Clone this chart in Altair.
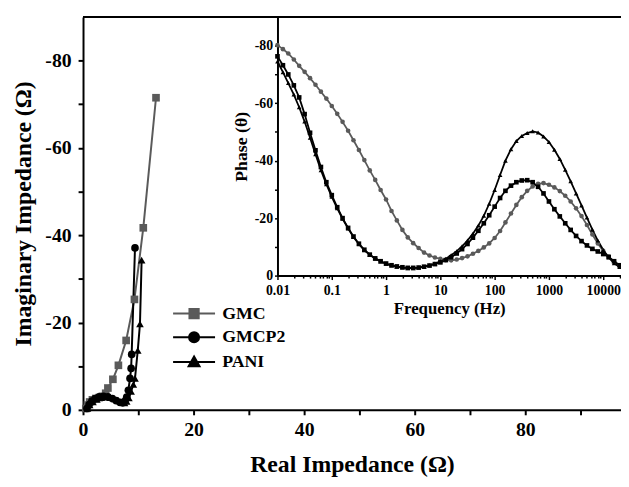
import altair as alt
import pandas as pd

series = ["GMC", "GMCP2", "PANI"]

# Nyquist data (real, imaginary in ohm)
gmc_re = [0.5, 0.8, 1.2, 1.7, 2.3, 2.9, 3.5, 4.1, 4.5, 5.4, 6.4, 7.8, 9.3, 10.9, 13.2]
gmc_im = [-0.3, -1.1, -1.8, -2.3, -2.6, -2.8, -3.1, -3.8, -5.0, -7.0, -10.2, -15.9, -25.3, -41.7, -71.5]
gmcp2_re = [0.7, 1.1, 1.6, 2.2, 2.9, 3.7, 4.5, 5.3, 6.0, 6.7, 7.2, 7.6, 7.9, 8.2, 8.5, 8.7, 8.8, 9.4]
gmcp2_im = [-0.3, -1.2, -2.0, -2.6, -3.0, -3.1, -3.0, -2.6, -2.1, -1.7, -1.6, -2.0, -2.9, -4.5, -7.2, -9.5, -12.7, -37.1]
pani_re = [0.8, 1.2, 1.8, 2.5, 3.3, 4.1, 4.9, 5.7, 6.4, 7.0, 7.5, 7.9, 8.3, 8.7, 9.1, 9.4, 9.9, 10.3, 10.6]
pani_im = [-0.3, -1.1, -1.8, -2.4, -2.8, -2.9, -2.8, -2.5, -2.1, -1.7, -1.6, -1.9, -2.7, -4.2, -5.8, -7.2, -13.6, -19.7, -34.3]

# Bode phase data
freq = [0.01, 0.0126, 0.0158, 0.02, 0.0251, 0.0316, 0.0398, 0.0501, 0.0631, 0.0794,
        0.1, 0.126, 0.158, 0.2, 0.251, 0.316, 0.398, 0.501, 0.631, 0.794,
        1, 1.26, 1.58, 2, 2.51, 3.16, 3.98, 5.01, 6.31, 7.94,
        10, 12.6, 15.8, 20, 25.1, 31.6, 39.8, 50.1, 63.1, 79.4,
        100, 126, 158, 200, 251, 316, 398, 501, 631, 794,
        1000, 1259, 1585, 1995, 2512, 3162, 3981, 5012, 6310, 7943,
        10000, 12589, 15849, 19953]
gmc_phase = [-80.2, -78.8, -77.3, -75.2, -73.0, -70.9, -68.7, -66.4, -64.0, -61.6,
             -59.0, -56.3, -53.5, -50.4, -47.1, -43.7, -40.2, -36.6, -33.3, -29.8,
             -26.5, -22.5, -19.2, -15.9, -13.3, -11.3, -9.6, -8.0, -7.0, -6.3,
             -5.8, -5.4, -5.3, -5.6, -6.1, -6.7, -7.6, -8.6, -9.8, -11.2,
             -13.1, -15.5, -18.5, -21.6, -24.6, -27.3, -29.5, -31.0, -31.9, -32.2,
             -31.6, -30.7, -29.4, -27.8, -25.8, -23.4, -20.7, -17.6, -14.3, -11.2,
             -8.6, -6.6, -4.8, -3.4]
gmcp2_phase = [-76.3, -73.2, -70.0, -66.2, -62.0, -56.2, -49.7, -43.6, -37.8, -32.5,
               -28.0, -23.8, -20.0, -16.6, -13.6, -11.1, -9.0, -7.3, -6.0, -5.0,
               -4.2, -3.6, -3.2, -2.9, -2.7, -2.7, -2.8, -3.1, -3.5, -4.0,
               -4.6, -5.4, -6.4, -7.7, -9.2, -11.0, -13.2, -15.6, -18.2, -21.0,
               -24.0, -27.0, -29.5, -31.3, -32.5, -33.1, -33.2, -32.5, -30.9, -28.6,
               -25.8, -23.1, -20.6, -18.2, -15.9, -13.8, -12.0, -10.5, -9.3, -8.4,
               -7.5, -6.5, -5.0, -3.6]
pani_phase = [-74.5, -70.8, -67.0, -63.0, -58.6, -53.6, -48.0, -42.2, -36.7, -31.8,
              -27.4, -23.4, -19.8, -16.4, -13.4, -10.9, -8.8, -7.2, -5.9, -4.9,
              -4.1, -3.5, -3.1, -2.8, -2.6, -2.6, -2.8, -3.1, -3.6, -4.2,
              -5.0, -5.9, -7.1, -8.5, -10.2, -12.2, -14.6, -17.4, -20.8, -25.0,
              -29.8, -35.0, -40.0, -44.0, -46.8, -48.6, -49.6, -50.2, -49.8, -48.4,
              -46.5, -43.8, -40.6, -36.8, -32.8, -28.6, -24.4, -20.2, -16.0, -12.2,
              -8.9, -6.3, -4.3, -3.0]

main_x_ticks = [0, 10, 20, 30, 40, 50, 60, 70, 80, 90]
main_y_ticks = [0, -10, -20, -30, -40, -50, -60, -70, -80]
inset_x_ticks = [0.01, 0.02, 0.03, 0.04, 0.05, 0.06, 0.07, 0.08, 0.09,
                 0.1, 0.2, 0.3, 0.4, 0.5, 0.6, 0.7, 0.8, 0.9,
                 1, 2, 3, 4, 5, 6, 7, 8, 9,
                 10, 20, 30, 40, 50, 60, 70, 80, 90,
                 100, 200, 300, 400, 500, 600, 700, 800, 900,
                 1000, 2000, 3000, 4000, 5000, 6000, 7000, 8000, 9000,
                 10000, 20000]
inset_y_ticks = [0, -10, -20, -30, -40, -50, -60, -70, -80]

main_shapes = {"GMC": "square", "GMCP2": "circle", "PANI": "triangle-up"}
inset_shapes = {"GMC": "circle", "GMCP2": "square", "PANI": "triangle-up"}

# ---- tables ----
rows = []
for name, re_, im_ in [("GMC", gmc_re, gmc_im), ("GMCP2", gmcp2_re, gmcp2_im), ("PANI", pani_re, pani_im)]:
    for i, (a, b) in enumerate(zip(re_, im_)):
        rows.append({"series": name, "re": a, "im": b, "i": i})
nyq = pd.DataFrame(rows)

rows = []
for name, ph in [("GMC", gmc_phase), ("GMCP2", gmcp2_phase), ("PANI", pani_phase)]:
    for f, p in zip(freq, ph):
        rows.append({"series": name, "f": f, "phase": p})
bode = pd.DataFrame(rows)

FONT = "Liberation Serif"
W, H = 545, 398
color_scale = alt.Scale(domain=series, range=["#5a5a5a", "#000000", "#000000"])

xmain = alt.X("re:Q", scale=alt.Scale(domain=[0, 97.3], nice=False, zero=False),
              axis=alt.Axis(title="Real Impedance (Ω)", values=main_x_ticks,
                            labelExpr="datum.value % 20 == 0 ? datum.value : ''",
                            tickSize=5, tickWidth=2, domainWidth=2, labelFontSize=20,
                            labelPadding=5, titleFontSize=24, titlePadding=13,
                            labelFlush=False, grid=False))
ymain = alt.Y("im:Q", scale=alt.Scale(domain=[0, -90], nice=False, zero=False),
              axis=alt.Axis(title="Imaginary Impedance (Ω)", values=main_y_ticks,
                            labelExpr="datum.value % 20 == 0 ? (datum.value == 0 ? '0' : '-' + abs(datum.value)) : ''",
                            tickSize=5, tickWidth=2, domainWidth=2, labelFontSize=20,
                            labelPadding=7, titleFontSize=24, titlePadding=10,
                            labelFlush=False, grid=False))

legend_paths = ["M-2.5,0H2.5M-0.55,-0.55H0.55V0.55H-0.55Z",
                "M-2.5,0H2.5M0.6,0A0.6,0.6 0 1,1 -0.6,0A0.6,0.6 0 1,1 0.6,0Z",
                "M-2.5,0H2.5M0,-0.65L0.65,0.5L-0.65,0.5Z"]
leg = alt.Legend(title=None, orient="none", legendX=103, legendY=291,
                 symbolSize=289, symbolStrokeColor="black",
                 symbolStrokeWidth=2, symbolOpacity=1,
                 labelFont=FONT, labelFontSize=18, labelFontWeight="bold",
                 labelColor="black", labelOffset=19, rowPadding=5, padding=0)

color_enc = alt.Color("series:N", scale=color_scale, legend=leg)

main_line = alt.Chart(nyq).mark_line(strokeWidth=2).encode(
    x=xmain, y=ymain, color=color_enc, detail="series:N", order="i:Q")

main_pts = [
    alt.Chart(nyq).transform_filter(alt.datum.series == s).mark_point(
        filled=True, size=60, opacity=1, shape=main_shapes[s]).encode(
        x="re:Q", y="im:Q", color=color_enc)
    for s in series
]

legend_layer = alt.Chart(nyq).mark_point(filled=True, opacity=0).encode(
    x="re:Q", y="im:Q", color=color_enc,
    shape=alt.Shape("series:N", scale=alt.Scale(domain=series, range=legend_paths), legend=leg))

top_rule = alt.Chart(nyq).mark_rule(color="black", strokeWidth=2).encode(
    x=alt.value(0), x2=alt.value(W), y=alt.value(0))

xin = alt.X("f:Q", scale=alt.Scale(type="log", domain=[0.01, 21240], range=[197, W], nice=False),
            axis=alt.Axis(orient="bottom", offset=-136, title="Frequency (Hz)", values=inset_x_ticks,
                          labelExpr="indexof([0.01,0.1,1,10,100,1000,10000], datum.value) >= 0 ? format(datum.value, '~g') : ''",
                          tickSize={"condition": {"test": "indexof([0.01,0.1,1,10,100,1000,10000], datum.value) >= 0", "value": 4}, "value": 2.5},
                          tickWidth=1.5, domainWidth=2, labelFontSize=14, labelPadding=4,
                          titleFontSize=17, titlePadding=3, labelOverlap=False,
                          labelFlush=False, grid=False))
yin = alt.Y("phase:Q", scale=alt.Scale(domain=[0, -90], range=[262, 0], nice=False, zero=False),
            axis=alt.Axis(orient="left", offset=-197, title="Phase (θ)", values=inset_y_ticks,
                          labelExpr="datum.value % 20 == 0 ? (datum.value == 0 ? '0' : '-' + abs(datum.value)) : ''",
                          tickSize=3, tickWidth=1.5, domainWidth=2, labelFontSize=14,
                          labelPadding=2, titleFontSize=18, titlePadding=4,
                          labelFlush=False, grid=False))

inset_line = alt.Chart(bode).mark_line(strokeWidth=1.8).encode(
    x=xin, y=yin, color=color_enc, detail="series:N")
inset_pts = [
    alt.Chart(bode).transform_filter(alt.datum.series == s).mark_point(
        filled=True, size=22, opacity=1, shape=inset_shapes[s]).encode(
        x="f:Q", y="phase:Q", color=color_enc)
    for s in series
]

inset = alt.layer(inset_line, *inset_pts)
main = alt.layer(main_line, *main_pts, legend_layer, top_rule)

chart = alt.layer(main, inset).resolve_scale(
    x="independent", y="independent"
).properties(
    width=W, height=H,
    autosize=alt.AutoSizeParams(type="none"),
    padding={"left": 76, "top": 6, "right": 0, "bottom": 70},
).configure_view(stroke=None).configure_axis(
    labelFont=FONT, titleFont=FONT, labelFontWeight="bold", titleFontWeight="bold",
    labelColor="black", titleColor="black", domainColor="black", tickColor="black"
)

chart.save("out.html", embed_options={"renderer": "svg", "actions": False})
